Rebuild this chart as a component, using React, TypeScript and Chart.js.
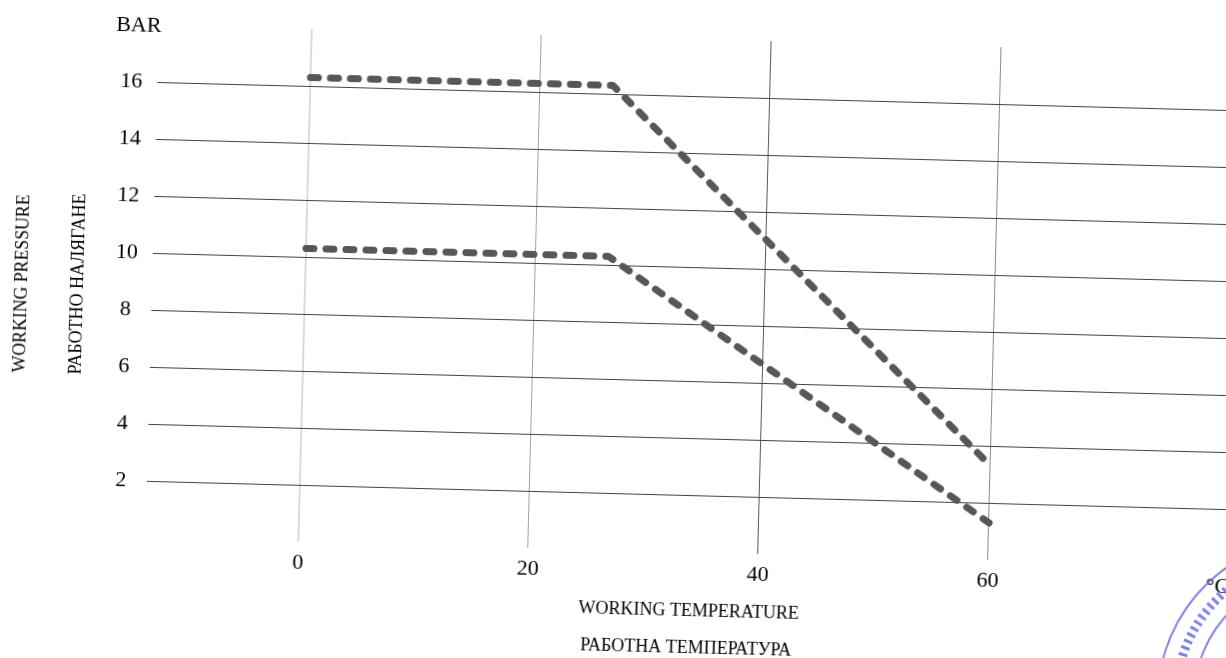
import React, { useEffect, useRef } from 'react';
import { Chart, registerables } from 'chart.js';

Chart.register(...registerables);

// ---- data ----
const temperatures = [0, 26.3, 60];
const pressureHigh = [16.3, 16.3, 3.3];
const pressureLow = [10.3, 10.3, 1.3];

const xTickValues = [0, 20, 40, 60, 80];
const xTickLabels = ['0', '20', '40', '60', '°C'];
const yTickValues = [2, 4, 6, 8, 10, 12, 14, 16];
const yUnitLabel = 'BAR';
const xTitleLines = ['WORKING TEMPERATURE', 'РАБОТНА ТЕМПЕРАТУРА'];
const yTitleLines = ['WORKING PRESSURE', 'РАБОТНО НАЛЯГАНЕ'];

const SERIF = '"Liberation Serif", "DejaVu Serif", serif';

const vGridColors: Record<number, string> = {
  0: 'rgba(0,0,0,0.14)',
  20: '#a2a2a2',
  40: '#5a5a5a',
  60: '#8a8a8a',
  80: 'rgba(0,0,0,0)',
};
const vGridWidths: Record<number, number> = { 0: 2, 20: 1, 40: 1, 60: 1, 80: 0 };

const annotate = {
  id: 'annotate',
  afterDraw(chart: any) {
    const ctx = chart.ctx as CanvasRenderingContext2D;
    const y = chart.scales.y;
    ctx.save();
    ctx.fillStyle = '#000';
    ctx.textAlign = 'center';
    ctx.textBaseline = 'middle';
    ctx.font = `22px ${SERIF}`;
    ctx.fillText(yUnitLabel, 171, y.getPixelForValue(18) + 1);

    ctx.font = `18px ${SERIF}`;
    ctx.fillText(xTitleLines[0], 736, 649, 224);
    ctx.fillText(xTitleLines[1], 734, 686, 222);

    ctx.save();
    ctx.translate(61, 339);
    ctx.rotate(-Math.PI / 2);
    ctx.fillText(yTitleLines[0], 0, 0, 178);
    ctx.restore();

    ctx.save();
    ctx.translate(117, 338);
    ctx.rotate(-Math.PI / 2);
    ctx.fillText(yTitleLines[1], 0, 0, 185);
    ctx.restore();

    // stamp fragment in the lower right corner
    ctx.strokeStyle = 'rgba(105,105,235,0.85)';
    ctx.lineWidth = 2;
    ctx.beginPath();
    ctx.arc(1370, 722, 163, 0, Math.PI * 2);
    ctx.stroke();
    ctx.beginPath();
    ctx.arc(1370, 722, 127, 0, Math.PI * 2);
    ctx.stroke();
    ctx.lineWidth = 9;
    ctx.setLineDash([3, 4]);
    ctx.beginPath();
    ctx.arc(1370, 722, 145, 0, Math.PI * 2);
    ctx.stroke();
    ctx.restore();
  },
};

export default function App() {
  const ref = useRef<HTMLCanvasElement>(null);

  useEffect(() => {
    if (!ref.current) return;
    const chart = new Chart(ref.current, {
      type: 'line',
      data: {
        datasets: [
          {
            label: 'high',
            data: temperatures.map((t, i) => ({ x: t, y: pressureHigh[i] })),
            borderColor: '#575757',
            borderWidth: 7,
            borderDash: [8, 12],
            borderCapStyle: 'round',
            borderJoinStyle: 'round',
            pointRadius: 0,
            tension: 0,
            fill: false,
          },
          {
            label: 'low',
            data: temperatures.map((t, i) => ({ x: t, y: pressureLow[i] })),
            borderColor: '#575757',
            borderWidth: 7,
            borderDash: [8, 12],
            borderCapStyle: 'round',
            borderJoinStyle: 'round',
            pointRadius: 0,
            tension: 0,
            fill: false,
          },
        ],
      },
      options: {
        responsive: false,
        animation: false,
        devicePixelRatio: 1,
        layout: { padding: { top: 77, right: 19, left: 0, bottom: 0 } },
        plugins: {
          legend: { display: false },
          tooltip: { enabled: false },
        },
        scales: {
          x: {
            type: 'linear',
            min: -13.3,
            max: 82,
            afterBuildTicks: (s: any) => {
              s.ticks = xTickValues.map((v) => ({ value: v }));
            },
            afterFit: (s: any) => {
              s.height = 148;
            },
            ticks: {
              autoSkip: false,
              maxRotation: 0,
              padding: 8,
              color: '#000',
              font: { family: SERIF, size: 22 },
              callback: (v: any) => {
                const i = xTickValues.indexOf(Number(v));
                return i >= 0 ? xTickLabels[i] : '';
              },
            },
            grid: {
              drawTicks: false,
              color: (c: any) => vGridColors[c.tick?.value] ?? 'rgba(0,0,0,0)',
              lineWidth: (c: any) => vGridWidths[c.tick?.value] ?? 0,
            },
            border: { display: false },
          },
          y: {
            type: 'linear',
            min: 0,
            max: 18,
            afterBuildTicks: (s: any) => {
              s.ticks = yTickValues.map((v) => ({ value: v }));
            },
            afterFit: (s: any) => {
              s.width = 191;
            },
            ticks: {
              autoSkip: false,
              crossAlign: 'center',
              padding: 15,
              color: '#000',
              font: { family: SERIF, size: 22 },
            },
            grid: {
              drawTicks: false,
              color: '#444',
              lineWidth: 1,
            },
            border: { display: false },
          },
        },
      },
      plugins: [annotate],
    } as any);
    return () => chart.destroy();
  }, []);

  return (
    <div
      style={{
        position: 'fixed',
        left: 0,
        top: 0,
        width: 1226,
        height: 658,
        overflow: 'hidden',
        background: '#fff',
      }}
    >
      <div
        style={{
          position: 'absolute',
          left: -40,
          top: -40,
          width: 1306,
          height: 738,
          transform: 'rotate(1.5deg)',
          transformOrigin: '653px 369px',
        }}
      >
        <canvas ref={ref} width={1306} height={738} style={{ width: 1306, height: 738, display: 'block' }} />
      </div>
    </div>
  );
}
